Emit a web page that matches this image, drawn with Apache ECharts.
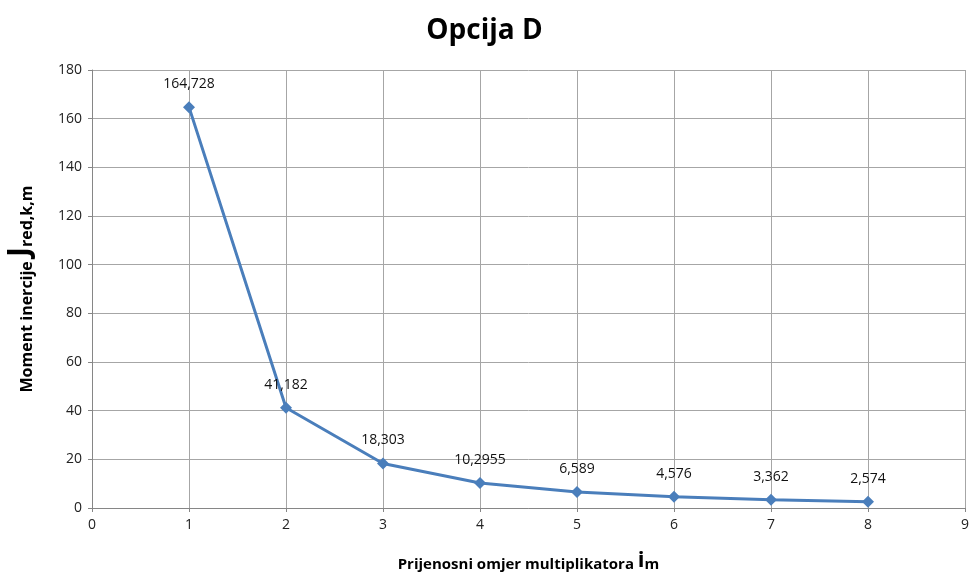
<!DOCTYPE html>
<html>
<head>
<meta charset="utf-8">
<script src="https://cdn.jsdelivr.net/npm/echarts@6/dist/echarts.min.js"></script>
<style>
  html, body { margin: 0; padding: 0; background: #fff; }
  #chart { width: 969px; height: 577px; }
</style>
</head>
<body>
<div id="chart"></div>
<script>
// prijenosni omjer (x) i moment inercije (y)
var ratios = [1, 2, 3, 4, 5, 6, 7, 8]
var inertia = [164.728, 41.182, 18.303, 10.2955, 6.589, 4.576, 3.362, 2.574]
var pointLabels = ['164,728', '41,182', '18,303', '10,2955', '6,589', '4,576', '3,362', '2,574']

var chart = echarts.init(document.getElementById('chart'))

var points = ratios.map(function (x, i) { return [x, inertia[i]] })

var option = {
  animation: false,
  backgroundColor: '#fff',
  title: {
    text: 'Opcija D',
    left: 'center',
    top: 12,
    textStyle: { fontFamily: 'Open Sans', fontWeight: 'bold', fontSize: 28, color: '#000' }
  },
  grid: { left: 92, right: 4, top: 70, bottom: 69, outerBoundsMode: 'none' },
  xAxis: {
    type: 'value',
    min: 0,
    max: 9,
    interval: 1,
    name: '{t|Prijenosni omjer multiplikatora }{big|i}{sub|m}',
    nameLocation: 'middle',
    nameGap: 42,
    nameTextStyle: {
      rich: {
        t: { fontFamily: 'Open Sans', fontWeight: 'bold', fontSize: 15, color: '#000', verticalAlign: 'bottom' },
        big: { fontFamily: 'Open Sans', fontWeight: 'bold', fontSize: 22, color: '#000', verticalAlign: 'bottom' },
        sub: { fontFamily: 'Open Sans', fontWeight: 'bold', fontSize: 15, color: '#000', verticalAlign: 'bottom' }
      }
    },
    axisLine: { lineStyle: { color: '#868686' } },
    axisTick: { length: 4, lineStyle: { color: '#868686' } },
    axisLabel: { fontFamily: 'Open Sans', fontSize: 14, color: '#222', margin: 10 },
    splitLine: { show: true, lineStyle: { color: '#a6a6a6' } }
  },
  yAxis: {
    type: 'value',
    min: 0,
    max: 180,
    interval: 20,
    name: '{t|Moment inercije }{big|J}{sub|red,k,m}',
    nameLocation: 'middle',
    nameGap: 57,
    nameRotate: 90,
    nameTextStyle: {
      rich: {
        t: { fontFamily: 'Open Sans', fontWeight: 'bold', fontSize: 16, color: '#000', verticalAlign: 'bottom' },
        big: { fontFamily: 'Open Sans', fontWeight: 'bold', fontSize: 30, color: '#000', verticalAlign: 'bottom' },
        sub: { fontFamily: 'Open Sans', fontWeight: 'bold', fontSize: 16, color: '#000', verticalAlign: 'bottom' }
      }
    },
    axisLine: { show: true, lineStyle: { color: '#868686' } },
    axisTick: { show: true, length: 4, lineStyle: { color: '#868686' } },
    axisLabel: { fontFamily: 'Open Sans', fontSize: 14, color: '#222', margin: 10 },
    splitLine: { show: true, lineStyle: { color: '#a6a6a6' } }
  },
  series: [
    {
      type: 'line',
      data: points,
      symbol: 'diamond',
      symbolSize: 12,
      lineStyle: { color: '#4a7ebb', width: 3 },
      itemStyle: { color: '#4a7ebb' },
      label: {
        show: true,
        position: 'top',
        distance: 10,
        fontFamily: 'Open Sans',
        fontSize: 14,
        color: '#111',
        formatter: function (p) { return pointLabels[p.dataIndex] }
      }
    }
  ]
}

chart.setOption(option)
</script>
</body>
</html>
